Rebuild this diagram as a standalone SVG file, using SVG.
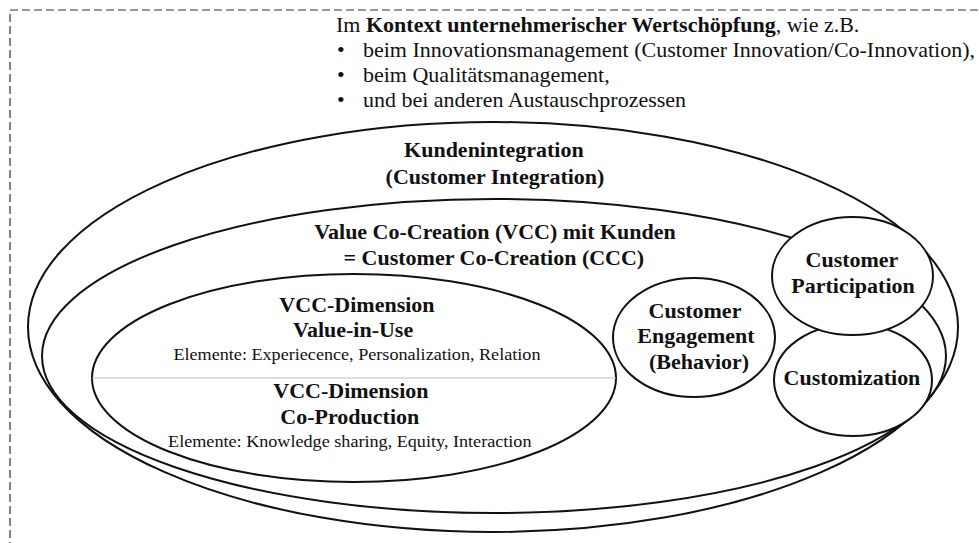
<svg xmlns="http://www.w3.org/2000/svg" width="979" height="543" viewBox="0 0 979 543">
<style>
.t{font-family:"Liberation Serif","Times New Roman",serif;fill:#111}
.r{font-size:20px}
.b{font-size:20px;font-weight:bold;text-anchor:middle}
.s{font-size:16.5px;text-anchor:middle}
.e{fill:none;stroke:#111;stroke-width:2}
.w{fill:#fff;stroke:#111;stroke-width:2}
</style>
<rect x="10" y="10" width="1000" height="560" fill="none" stroke="#333" stroke-width="1.2" stroke-dasharray="8 4"/>
<g id="context">
<g transform="scale(1.1 1)" class="t r">
<text x="305.5" y="32">Im <tspan font-weight="bold">Kontext unternehmerischer Wertschöpfung</tspan>, wie z.B.</text>
<text x="306.4" y="57">•</text><text x="330" y="57">beim Innovationsmanagement (Customer Innovation/Co-Innovation),</text>
<text x="306.4" y="82">•</text><text x="330" y="82">beim Qualitätsmanagement,</text>
<text x="306.4" y="107">•</text><text x="330" y="107">und bei anderen Austauschprozessen</text>
</g>
</g>
<g id="kundenintegration">
<ellipse class="e" cx="493" cy="327" rx="465" ry="205"/>
<g transform="scale(1.1 1)" class="t b">
<text x="449" y="157">Kundenintegration</text>
<text x="450" y="184">(Customer Integration)</text>
</g>
</g>
<g id="vcc">
<ellipse class="e" cx="494" cy="356" rx="452" ry="157"/>
<g transform="scale(1.1 1)" class="t b">
<text x="450" y="239">Value Co-Creation (VCC) mit Kunden</text>
<text x="449" y="265">= Customer Co-Creation (CCC)</text>
</g>
</g>
<g id="dimensions">
<ellipse class="w" cx="354" cy="378" rx="262" ry="104"/>
<line x1="92" y1="378" x2="616" y2="378" stroke="#bbb" stroke-width="1.2"/>
<g transform="scale(1.1 1)" class="t">
<text class="b" x="324.5" y="312">VCC-Dimension</text>
<text class="b" x="321" y="337">Value-in-Use</text>
<text class="s" x="324.5" y="360">Elemente: Experiecence, Personalization, Relation</text>
<text class="b" x="319" y="398">VCC-Dimension</text>
<text class="b" x="318" y="424">Co-Production</text>
<text class="s" x="318" y="447">Elemente: Knowledge sharing, Equity, Interaction</text>
</g>
</g>
<g id="engagement">
<ellipse class="w" cx="694" cy="337.5" rx="81" ry="59.5"/>
<g transform="scale(1.1 1)" class="t b">
<text x="631.8" y="318">Customer</text>
<text x="632.7" y="343">Engagement</text>
<text x="635.5" y="369">(Behavior)</text>
</g>
</g>
<g id="customization">
<ellipse class="w" cx="853" cy="380" rx="79" ry="56"/>
<g transform="scale(1.1 1)" class="t b">
<text x="774.5" y="385">Customization</text>
</g>
</g>
<g id="participation">
<ellipse class="w" cx="852.5" cy="276" rx="80.5" ry="59"/>
<g transform="scale(1.1 1)" class="t b">
<text x="774.5" y="267">Customer</text>
<text x="775.5" y="293">Participation</text>
</g>
</g>
<g id="connectors"></g>
</svg>
